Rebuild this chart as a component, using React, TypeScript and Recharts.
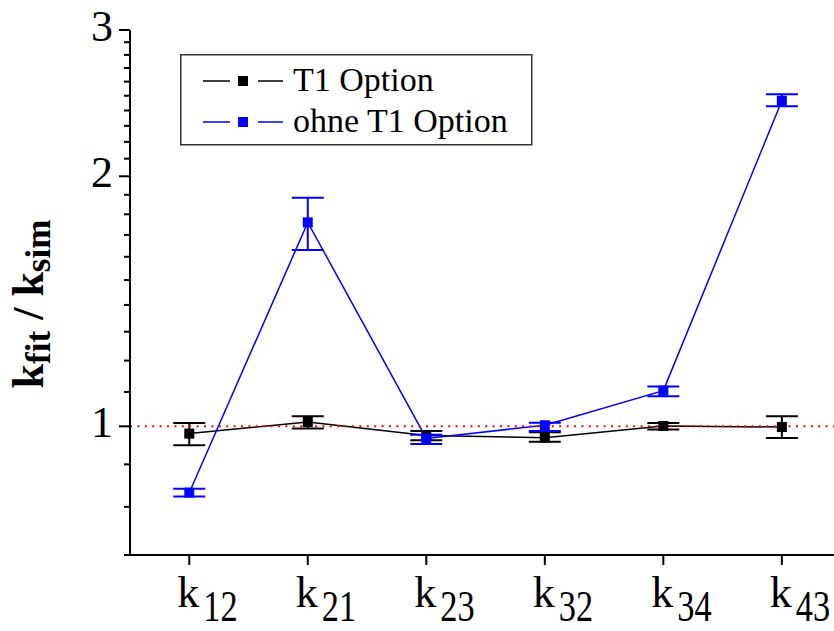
import React from 'react';
import { LineChart, Line, XAxis, YAxis, ErrorBar, ReferenceLine, Legend } from 'recharts';

const rateLabels = ['12', '21', '23', '32', '34', '43'];
const t1Values = [0.98, 1.012, 0.975, 0.969, 1.001, 0.998];
const t1Low = [0.949, 0.994, 0.962, 0.958, 0.991, 0.968];
const t1High = [1.009, 1.028, 0.987, 0.984, 1.009, 1.028];
const ohneValues = [0.832, 1.76, 0.967, 1.003, 1.104, 2.466];
const ohneLow = [0.823, 1.63, 0.952, 0.987, 1.087, 2.428];
const ohneHigh = [0.841, 1.884, 0.977, 1.01, 1.117, 2.51];

const yTicks = [0.7, 0.8, 0.9, 1, 1.1, 1.2, 1.3, 1.4, 1.5, 1.6, 1.7, 1.8, 1.9, 2, 2.1, 2.2, 2.3, 2.4, 2.5, 2.6, 2.7, 2.8, 2.9, 3];
const yMajor = [1, 2, 3];
const xTicks = [1, 2, 3, 4, 5, 6];

const seriesNames = ['T1 Option', 'ohne T1 Option'];
const seriesColors = ['#000000', '#0000ff'];

const data = rateLabels.map((lab, i) => ({
  x: i + 1,
  label: lab,
  t1: t1Values[i],
  t1Err: [t1Values[i] - t1Low[i], t1High[i] - t1Values[i]],
  ohne: ohneValues[i],
  ohneErr: [ohneValues[i] - ohneLow[i], ohneHigh[i] - ohneValues[i]],
}));

const FONT = 'Liberation Serif, DejaVu Serif, serif';
const fs = { fontFamily: FONT };

const YTick = (props: any) => {
  const { x, y, payload } = props;
  const major = yMajor.includes(payload.value);
  return (
    <g>
      <line x1={x} x2={x - (major ? 11 : 6)} y1={y} y2={y} stroke="#000" strokeWidth={2} />
      {major && (
        <text x={113} y={y + 11} textAnchor="end" fontSize={44} style={fs} fill="#000">
          {payload.value}
        </text>
      )}
    </g>
  );
};

const XTick = (props: any) => {
  const { x, y, payload } = props;
  const lab = rateLabels[payload.value - 1] ?? '';
  return (
    <g>
      <line x1={x} x2={x} y1={y} y2={y + 10} stroke="#000" strokeWidth={2} />
      <text x={x - 12} y={y + 52} fontSize={44} style={fs} fill="#000">k</text>
      <text transform={`translate(${x + 14},${y + 66}) scale(0.78,1)`} x={0} y={0} fontSize={44} style={fs} fill="#000">
        {lab}
      </text>
    </g>
  );
};

const YLabel = () => (
  <text transform="rotate(-90)" x={-304} y={43} textAnchor="middle" style={fs} fontWeight="bold" fill="#000">
    <tspan fontSize={44}>k</tspan>
    <tspan fontSize={35} dy={7}>fit</tspan>
    <tspan fontSize={44} dy={-7}>{' / '}</tspan>
    <tspan fontSize={44}>k</tspan>
    <tspan fontSize={35} dy={7}>sim</tspan>
  </text>
);

const makeDot = (color: string) => (p: any) => (
  <rect key={`d-${color}-${p.index}`} x={p.cx - 5} y={p.cy - 5} width={10} height={10} fill={color} />
);

const renderLegend = () => (
  <svg width={354} height={93} style={{ display: 'block' }}>
    <rect x={0.75} y={0.75} width={351} height={90} fill="#fff" stroke="#333" strokeWidth={1.5} />
    {seriesNames.map((name, i) => {
      const cy = 27 + i * 41;
      const c = seriesColors[i];
      return (
        <g key={name}>
          <line x1={23} x2={50} y1={cy} y2={cy} stroke={c} strokeWidth={1.5} />
          <rect x={58} y={cy - 5} width={10} height={10} fill={c} />
          <line x1={78} x2={103} y1={cy} y2={cy} stroke={c} strokeWidth={1.5} />
          <text x={113} y={cy + 9.5} fontSize={34} style={fs} fill="#000">{name}</text>
        </g>
      );
    })}
  </svg>
);

export default function App() {
  return (
    <div style={{ position: 'absolute', left: 0, top: 0, background: '#fff' }}>
      <LineChart width={834} height={631} data={data} margin={{ top: 30, right: 0, bottom: 0, left: 0 }}>
        <XAxis
          dataKey="x"
          type="number"
          domain={[0.5, 6.44]}
          allowDataOverflow
          ticks={xTicks}
          tick={<XTick />}
          tickLine={false}
          tickSize={0}
          tickMargin={0}
          height={76}
          axisLine={{ stroke: '#000', strokeWidth: 2 }}
          interval={0}
        />
        <YAxis
          type="number"
          scale="log"
          domain={[0.7, 3]}
          allowDataOverflow
          ticks={yTicks}
          tick={<YTick />}
          tickLine={false}
          tickSize={0}
          tickMargin={0}
          width={130}
          interval={0}
          axisLine={{ stroke: '#000', strokeWidth: 2 }}
          label={YLabel}
        />
        <Line
          dataKey="t1"
          name={seriesNames[0]}
          stroke={seriesColors[0]}
          strokeWidth={1.5}
          dot={makeDot(seriesColors[0])}
          activeDot={false}
          isAnimationActive={false}
        >
          <ErrorBar dataKey="t1Err" direction="y" width={16} stroke={seriesColors[0]} strokeWidth={2} isAnimationActive={false} />
        </Line>
        <Line
          dataKey="ohne"
          name={seriesNames[1]}
          stroke={seriesColors[1]}
          strokeWidth={1.5}
          dot={makeDot(seriesColors[1])}
          activeDot={false}
          isAnimationActive={false}
        >
          <ErrorBar dataKey="ohneErr" direction="y" width={16} stroke={seriesColors[1]} strokeWidth={2} isAnimationActive={false} />
        </Line>
        <ReferenceLine y={1} stroke="#ff0000" strokeWidth={2} strokeDasharray="2 5.4" />
        <Legend
          content={renderLegend}
          layout="horizontal"
          verticalAlign="middle"
          align="center"
          wrapperStyle={{ position: 'absolute', left: 180, top: 54, width: 354, height: 93 }}
        />
      </LineChart>
    </div>
  );
}
